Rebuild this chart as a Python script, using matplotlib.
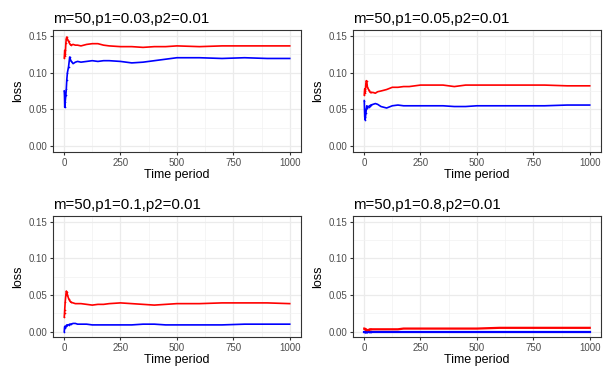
import numpy as np
import matplotlib
matplotlib.use("Agg")
from matplotlib import pyplot as plt
from matplotlib.ticker import MultipleLocator

plt.rcParams['font.family'] = ['Liberation Sans', 'DejaVu Sans']

time_period = [1, 2, 3, 5, 8, 10, 12, 15, 20, 25, 30, 40, 50, 60, 75, 100, 125,
               150, 175, 200, 250, 300, 350, 400, 450, 500, 600, 700, 800, 900, 1000]

titles = ["m=50,p1=0.03,p2=0.01", "m=50,p1=0.05,p2=0.01",
          "m=50,p1=0.1,p2=0.01", "m=50,p1=0.8,p2=0.01"]

# red series (loss of first estimator)
red_003 = [0.120, 0.125, 0.130, 0.122, 0.140, 0.146, 0.148, 0.145, 0.142, 0.139, 0.137,
           0.138, 0.137, 0.137, 0.136, 0.138, 0.139, 0.139, 0.137, 0.136, 0.135, 0.135,
           0.134, 0.135, 0.135, 0.136, 0.135, 0.136, 0.136, 0.136, 0.136]
red_005 = [0.070, 0.075, 0.078, 0.072, 0.085, 0.089, 0.088, 0.080, 0.077, 0.074, 0.073,
           0.073, 0.072, 0.074, 0.075, 0.077, 0.080, 0.080, 0.081, 0.081, 0.083, 0.083,
           0.083, 0.081, 0.083, 0.083, 0.083, 0.083, 0.083, 0.082, 0.082]
red_01 = [0.020, 0.025, 0.030, 0.040, 0.050, 0.055, 0.054, 0.050, 0.045, 0.042, 0.040,
          0.039, 0.038, 0.038, 0.038, 0.037, 0.036, 0.037, 0.037, 0.038, 0.039, 0.038,
          0.037, 0.036, 0.037, 0.038, 0.038, 0.039, 0.039, 0.039, 0.038]
red_08 = [0.004, 0.004, 0.004, 0.003, 0.003, 0.002, 0.002, 0.002, 0.002, 0.003, 0.003,
          0.003, 0.003, 0.003, 0.003, 0.003, 0.003, 0.003, 0.004, 0.004, 0.004, 0.004,
          0.004, 0.004, 0.004, 0.004, 0.005, 0.005, 0.005, 0.005, 0.005]

# blue series (loss of second estimator)
blue_003 = [0.075, 0.068, 0.053, 0.060, 0.070, 0.078, 0.090, 0.100, 0.108, 0.121, 0.116,
            0.112, 0.114, 0.115, 0.114, 0.115, 0.116, 0.115, 0.116, 0.116, 0.115, 0.113,
            0.114, 0.116, 0.118, 0.120, 0.120, 0.119, 0.120, 0.119, 0.119]
blue_005 = [0.062, 0.050, 0.040, 0.036, 0.045, 0.050, 0.055, 0.052, 0.054, 0.055, 0.056,
            0.057, 0.058, 0.057, 0.054, 0.052, 0.055, 0.056, 0.055, 0.055, 0.055, 0.055,
            0.055, 0.054, 0.054, 0.055, 0.055, 0.055, 0.055, 0.056, 0.056]
blue_01 = [0.000, 0.005, 0.007, 0.006, 0.007, 0.008, 0.009, 0.009, 0.009, 0.010, 0.010,
           0.011, 0.011, 0.010, 0.010, 0.010, 0.009, 0.009, 0.009, 0.009, 0.009, 0.009,
           0.010, 0.010, 0.009, 0.009, 0.009, 0.009, 0.010, 0.010, 0.010]
blue_08 = [0.000] * 31

red_series = [red_003, red_005, red_01, red_08]
blue_series = [blue_003, blue_005, blue_01, blue_08]

# axes boxes in pixels: left, top, right, bottom
W, H = 607, 372
boxes = [(53, 30, 301, 152), (353, 30, 601, 152),
         (53, 216, 301, 337), (353, 216, 601, 337)]

fig = plt.figure(figsize=(W / 100, H / 100), dpi=100)

for i in range(4):
    l, t, r, b = boxes[i]
    ax = fig.add_axes([l / W, 1 - b / H, (r - l) / W, (b - t) / H])
    x = np.array(time_period)
    red = np.array(red_series[i])
    blue = np.array(blue_series[i])

    lw = 1.6 if i == 3 else 1.2
    ax.plot(x, red, color="#FF0000", lw=lw, zorder=3)
    ax.plot(x, blue, color="#0000FF", lw=lw, zorder=3)
    early = x <= 30
    ax.scatter(x[early], red[early], s=1.5, color="#FF0000", zorder=3, lw=0)
    ax.scatter(x[early], blue[early], s=1.5, color="#0000FF", zorder=3, lw=0)

    ax.set_xlim(-49, 1050)
    ax.set_ylim(-0.0075, 0.1575)
    ax.xaxis.set_major_locator(MultipleLocator(250))
    ax.xaxis.set_minor_locator(MultipleLocator(125))
    ax.yaxis.set_major_locator(MultipleLocator(0.05))
    ax.yaxis.set_minor_locator(MultipleLocator(0.025))
    ax.set_yticks([0, 0.05, 0.10, 0.15])
    ax.set_yticklabels(["0.00", "0.05", "0.10", "0.15"])

    ax.grid(True, which="major", color="#EBEBEB", lw=0.9)
    ax.grid(True, which="minor", color="#F2F2F2", lw=0.5)
    ax.set_axisbelow(True)
    for s in ax.spines.values():
        s.set_color("#333333")
        s.set_linewidth(0.8)
    ax.tick_params(which="major", length=2.5, width=0.8, color="#333333",
                   labelsize=7, labelcolor="#4D4D4D", pad=1.5)
    ax.tick_params(which="minor", length=0)

    ax.set_xlabel("Time period", fontsize=9, labelpad=1)
    ax.set_ylabel("loss", fontsize=9, labelpad=3)
    ax.set_title(titles[i], loc="left", fontsize=10.8, pad=5)

fig.savefig("out.png", dpi=100)
